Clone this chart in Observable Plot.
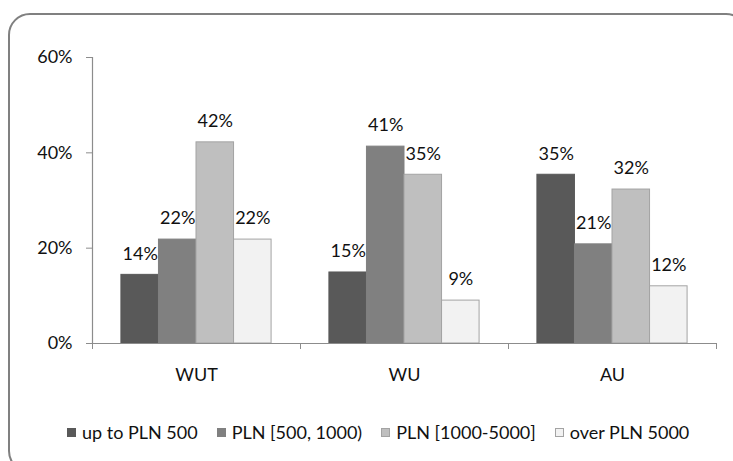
<!DOCTYPE html>
<html>
<head>
<meta charset="utf-8">
<script src="https://cdn.jsdelivr.net/npm/d3@7"></script>
<script src="https://cdn.jsdelivr.net/npm/@observablehq/plot@0.6"></script>
<style>
  html, body { margin: 0; padding: 0; background: #fff; }
  #wrap { position: relative; width: 733px; height: 461px; overflow: hidden; background: #fff; font-family: Lato, sans-serif; }
  #frame { position: absolute; left: 8px; top: 13px; width: 740px; height: 460px; border: 2.5px solid #808080; border-radius: 22px; box-sizing: border-box; pointer-events: none; }
  #chart { position: absolute; left: 0; top: 0; }
  #legend { position: absolute; left: 67px; top: 421px; display: flex; align-items: center; gap: 19px; font-size: 18px; color: #111; white-space: nowrap; }
  #legend .item { display: flex; align-items: center; }
  #legend .sw { width: 9px; height: 9px; margin-right: 6px; box-sizing: border-box; }
</style>
</head>
<body>
<div id="wrap">
  <div id="chart"></div>
  <div id="frame"></div>
  <div id="legend"></div>
</div>
<script>
const categories = ["WUT", "WU", "AU"];
const seriesNames = ["up to PLN 500", "PLN [500, 1000)", "PLN [1000-5000]", "over PLN 5000"];
const upTo500 = [14.4, 14.9, 35.4];
const pln500to1000 = [21.8, 41.3, 20.8];
const pln1000to5000 = [42.2, 35.4, 32.3];
const over5000 = [21.8, 9.0, 12.0];
const yTicks = [0, 20, 40, 60];
const seriesColors = ["#595959", "#808080", "#bfbfbf", "#f2f2f2"];
const seriesStrokes = ["#595959", "#808080", "#a3a3a3", "#a3a3a3"];

const seriesValues = [upTo500, pln500to1000, pln1000to5000, over5000];
const rows = [];
categories.forEach((c, gi) => {
  seriesValues.forEach((vals, si) => {
    rows.push({category: c, gi, series: seriesNames[si], si, value: vals[gi]});
  });
});

// group layout in category units (each category spans 1 unit)
const groupPad = 0.139;
const barW = (1 - 2 * groupPad) / seriesNames.length;
const bx1 = d => d.gi + groupPad + d.si * barW;
const bx2 = d => d.gi + groupPad + (d.si + 1) * barW;
const bmid = d => d.gi + groupPad + (d.si + 0.5) * barW;

const chart = Plot.plot({
  width: 733,
  height: 410,
  marginLeft: 92,
  marginRight: 17,
  marginTop: 57,
  marginBottom: 67,
  style: {fontFamily: "Lato, sans-serif", fontSize: "18px", color: "#111", background: "transparent", overflow: "visible"},
  x: {domain: [0, categories.length], axis: null},
  y: {domain: [0, 60], axis: null},
  color: {domain: seriesNames, range: seriesColors},
  marks: [
    Plot.rectY(rows, {x1: bx1, x2: bx2, y: "value", fill: "series",
      stroke: d => seriesStrokes[d.si], strokeWidth: 1}),
    Plot.ruleY([0], {stroke: "#8c8c8c", strokeWidth: 1.2}),
    Plot.ruleX([0], {y1: 0, y2: 60, stroke: "#8c8c8c", strokeWidth: 1.2}),
    Plot.axisY({ticks: yTicks, tickFormat: d => d + "%", tickSize: 6, tickPadding: 14,
      stroke: "#8c8c8c", fill: "#111", label: null}),
    Plot.axisX({ticks: d3.range(categories.length + 1), tickFormat: () => "", tickSize: 6,
      stroke: "#8c8c8c", label: null}),
    Plot.text(categories, {x: (d, i) => i + 0.5, y: 0, text: d => d, dy: 32,
      lineAnchor: "middle", fill: "#111"}),
    Plot.text(rows, {x: bmid, y: "value", text: d => Math.round(d.value) + "%",
      dy: -21, lineAnchor: "middle", fill: "#111"})
  ]
});
document.getElementById("chart").appendChild(chart);

const legend = d3.select("#legend");
seriesNames.forEach((name, i) => {
  const item = legend.append("div").attr("class", "item");
  item.append("span").attr("class", "sw")
    .style("background", seriesColors[i])
    .style("border", i >= 2 ? `1px solid ${seriesStrokes[i]}` : "none");
  item.append("span").text(name);
});
</script>
</body>
</html>
